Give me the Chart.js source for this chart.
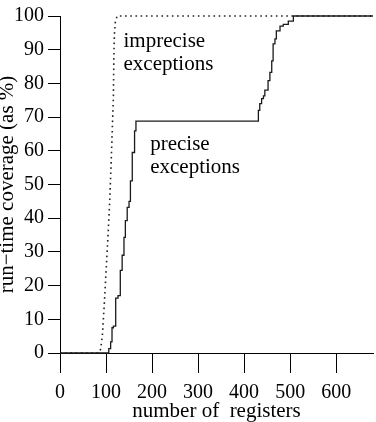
<!DOCTYPE html>
<html>
<head>
<meta charset="utf-8">
<script src="https://cdn.jsdelivr.net/npm/chart.js@4/dist/chart.umd.min.js"></script>
<style>
  html, body { margin: 0; padding: 0; background: #fff; }
  canvas { display: block; }
</style>
</head>
<body>
<canvas id="coverage" width="376" height="422"></canvas>
<script>
// step curve for precise exceptions (x = registers, y = coverage after the step)
const preciseX = [0, 100, 106, 110, 113, 116, 121, 126, 131, 135, 139, 142, 146, 150, 153, 157, 162, 165,
                  431, 434, 438, 442, 445, 452, 456, 460, 463, 467, 470, 478, 485, 496, 507, 680];
const preciseY = [0, 0, 1.3, 3.3, 7.5, 8, 16.3, 17, 24.5, 29, 34.3, 39.3, 43.2, 45, 51.1, 59.5, 65.9, 68.8,
                  72, 74, 75.5, 76.3, 78, 80.8, 83.3, 86.7, 91.7, 93.2, 95.6, 97, 97.5, 98.5, 100, 100];

// dotted curve for imprecise exceptions
const impreciseX = [0, 84, 88, 92, 96, 100, 104, 108, 111, 114, 116, 117, 118, 120, 124, 680];
const impreciseY = [0, 0, 1, 5, 14, 24, 34, 45, 56, 68, 76, 88, 94, 98, 100, 100];

const xTicks = [0, 100, 200, 300, 400, 500, 600];
const yTicks = [0, 10, 20, 30, 40, 50, 60, 70, 80, 90, 100];

const toPoints = (xs, ys) => xs.map((x, i) => ({ x: x, y: ys[i] }));

// curve labels, placed in data units
const notes = [
  { text: 'imprecise', x: 138, y: 90.8 },
  { text: 'exceptions', x: 138, y: 83.9 },
  { text: 'precise', x: 196, y: 60.3 },
  { text: 'exceptions', x: 196, y: 53.5 }
];

const notePlugin = {
  id: 'notes',
  afterDatasetsDraw(chart) {
    const ctx = chart.ctx;
    const xs = chart.scales.x, ys = chart.scales.y;
    ctx.save();
    ctx.fillStyle = '#000';
    ctx.font = '21px "Liberation Serif"';
    ctx.textAlign = 'left';
    ctx.textBaseline = 'alphabetic';
    notes.forEach(n => ctx.fillText(n.text, xs.getPixelForValue(n.x), ys.getPixelForValue(n.y)));
    ctx.restore();
  }
};

Chart.defaults.font.family = '"Liberation Serif", serif';
Chart.defaults.color = '#000';

const coverageChart = new Chart(document.getElementById('coverage'), {
  type: 'line',
  data: {
    datasets: [{
      label: 'precise exceptions',
      data: toPoints(preciseX, preciseY),
      borderColor: '#1a1a1a',
      borderWidth: 1.3,
      stepped: true,
      pointRadius: 0,
      fill: false,
      clip: false
    }, {
      label: 'imprecise exceptions',
      data: toPoints(impreciseX, impreciseY),
      borderColor: '#222',
      borderWidth: 1.6,
      borderDash: [1.6, 3.6],
      tension: 0,
      pointRadius: 0,
      fill: false,
      clip: false
    }]
  },
  options: {
    responsive: false,
    devicePixelRatio: 1,
    animation: false,
    layout: { padding: { left: 0, right: 3, top: 15, bottom: 0 } },
    plugins: { legend: { display: false }, tooltip: { enabled: false } },
    scales: {
      x: {
        type: 'linear',
        min: 0,
        max: 680,
        afterBuildTicks: s => { s.ticks = xTicks.map(v => ({ value: v })); },
        afterFit: s => { s.height = 69; },
        grid: { drawOnChartArea: false, drawTicks: true, tickLength: 20, color: '#000', lineWidth: 1 },
        border: { display: true, color: '#000', width: 1 },
        ticks: { font: { size: 20 }, padding: 8, maxRotation: 0 },
        title: {
          display: true,
          text: 'number of  registers',
          font: { size: 21, lineHeight: 1 },
          padding: { top: 0, bottom: 0 }
        }
      },
      y: {
        type: 'linear',
        min: 0,
        max: 100,
        afterBuildTicks: s => { s.ticks = yTicks.map(v => ({ value: v })); },
        afterFit: s => { s.width = 60; },
        grid: { drawOnChartArea: false, drawTicks: true, tickLength: 12, color: '#000', lineWidth: 1 },
        border: { display: true, color: '#000', width: 1 },
        ticks: { font: { size: 20 }, padding: 4 },
        title: {
          display: true,
          text: 'run\u2212time coverage (as %)',
          font: { size: 21, lineHeight: 1 },
          padding: { top: -3, bottom: 0 }
        }
      }
    }
  },
  plugins: [notePlugin]
});
</script>
</body>
</html>
